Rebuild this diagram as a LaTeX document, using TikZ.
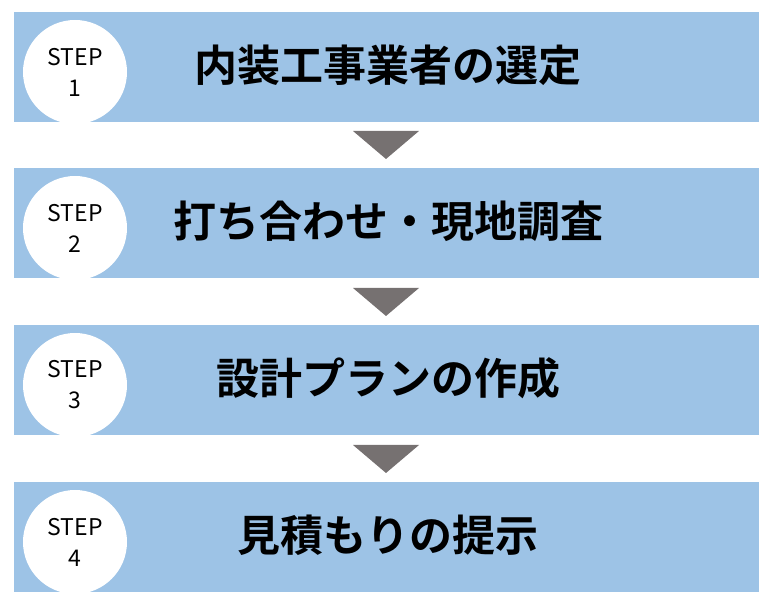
\documentclass[tikz,border=0pt]{standalone}
\usepackage{fontspec}
\newfontfamily\cjk{Noto Sans CJK JP}
\newfontfamily\cjkb{Noto Sans CJK JP Bold}
\definecolor{bar}{HTML}{9DC3E6}
\definecolor{tri}{HTML}{767171}
\begin{document}
\begin{tikzpicture}[x=1pt,y=-1pt,
  bar/.style={fill=bar,draw=none,minimum width=745pt,minimum height=110pt,inner sep=0pt},
  stepc/.style={circle,fill=white,draw=none,minimum size=104pt,inner sep=0pt,align=center,font=\cjk\fontsize{23}{31}\selectfont},
  title/.style={font=\cjkb\fontsize{43}{48}\selectfont},
  arr/.style={fill=tri,draw=none}]
\useasboundingbox (0,0) rectangle (769,601);
\foreach \i/\y/\t in {1/67/内装工事業者の選定,2/223/打ち合わせ・現地調査,3/380/設計プランの作成,4/537/見積もりの提示}{
  \node[bar] (b\i) at (386.5,\y) {};
  \node[stepc] (c\i) at (75,\y+5) {STEP\\\i};
  \node[title] (t\i) at (388,\y-2) {\t};
}
\foreach \y/\n in {131/1,288/2,445/3}{
  \coordinate (a\n) at (386,\y);
  \fill[arr] (353,\y) -- (419,\y) -- (386,\y+28) -- cycle;
}
\end{tikzpicture}
\end{document}
